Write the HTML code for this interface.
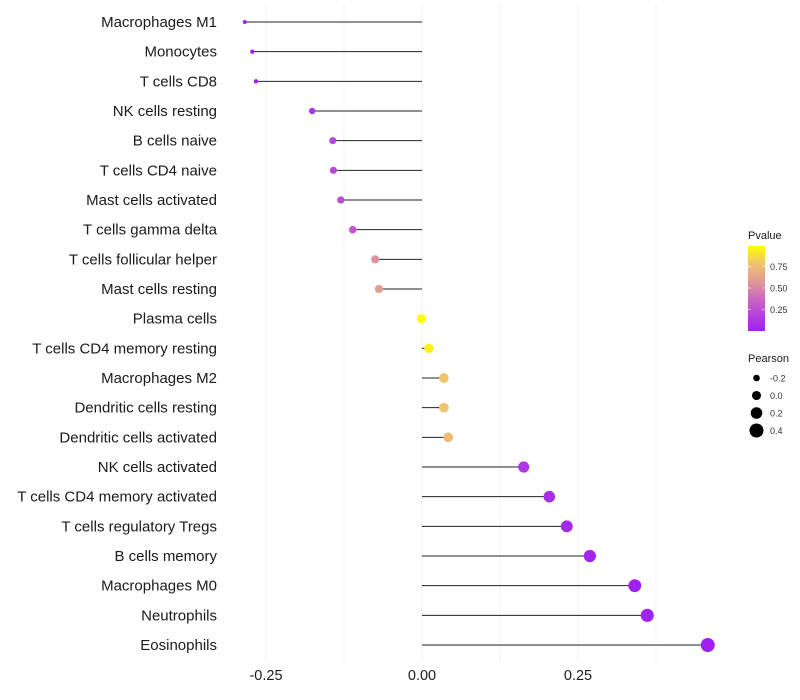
<!DOCTYPE html>
<html><head><meta charset="utf-8"><style>
body{margin:0;background:#fff;}
svg{display:block;font-family:"Liberation Sans",sans-serif;}
</style></head><body>
<svg id="chart" width="800" height="700"></svg>
<script>
const categories=["Macrophages M1","Monocytes","T cells CD8","NK cells resting","B cells naive","T cells CD4 naive","Mast cells activated","T cells gamma delta","T cells follicular helper","Mast cells resting","Plasma cells","T cells CD4 memory resting","Macrophages M2","Dendritic cells resting","Dendritic cells activated","NK cells activated","T cells CD4 memory activated","T cells regulatory  Tregs ","B cells memory","Macrophages M0","Neutrophils","Eosinophils"];
const pearson=[-0.284,-0.272,-0.266,-0.176,-0.143,-0.142,-0.130,-0.111,-0.075,-0.069,-0.001,0.011,0.035,0.035,0.042,0.163,0.204,0.232,0.269,0.341,0.361,0.458];
const pvalue=[0.0,0.01,0.01,0.12,0.2,0.2,0.25,0.3,0.55,0.6,1.0,0.95,0.8,0.8,0.75,0.12,0.07,0.05,0.03,0.01,0.005,0.0];
const xTicks=[-0.25,0,0.25];
const xTickLabels=["-0.25","0.00","0.25"];
const pTicks=[0.25,0.5,0.75];
const pTickLabels=["0.25","0.50","0.75"];
const sizeVals=[-0.2,0,0.2,0.4];
const sizeLabels=["-0.2","0.0","0.2","0.4"];

const NS="http://www.w3.org/2000/svg";
const svg=document.getElementById('chart');
function X(v){return 422+v*624;}
function Y(i){return 22+i*29.667;}
function R(v){return Math.sqrt(Math.max(3,21.2+60.6*v));}
const stops=[[0,[160,32,240]],[0.35,[200,96,200]],[0.6,[226,158,145]],[0.8,[240,195,110]],[1,[255,255,0]]];
function C(p){for(let k=1;k<stops.length;k++){if(p<=stops[k][0]){const a=stops[k-1],b=stops[k];const t=(p-a[0])/(b[0]-a[0]);return 'rgb('+a[1].map((c,j)=>Math.round(c+(b[1][j]-c)*t)).join(',')+')';}}return 'rgb(255,255,0)';}
function el(tag,attrs,parent){const e=document.createElementNS(NS,tag);for(const k in attrs)e.setAttribute(k,attrs[k]);(parent||svg).appendChild(e);return e;}

const grid=el('g',{});


for(let v=-0.25;v<=0.376;v+=0.125){el('line',{x1:X(v),x2:X(v),y1:5,y2:662,stroke:'#f0f0f0','stroke-width':1},grid);}

xTicks.forEach((v,i)=>{const t=el('text',{x:X(v),y:680,'text-anchor':'middle','font-size':14.5,fill:'#1a1a1a'});


t.textContent=xTickLabels[i];});

categories.forEach((c,i)=>{
 const t=el('text',{x:217,y:Y(i)+5,'text-anchor':'end','font-size':15,fill:'#1a1a1a'});
 
 
 t.textContent=c;
 const l=el('line',{x1:X(0),x2:X(pearson[i]),y1:Y(i),y2:Y(i),stroke:'#222','stroke-width':1});
 
 
 const p=el('circle',{cx:X(pearson[i]),cy:Y(i),r:R(pearson[i]),fill:C(pvalue[i])});
 
 
});

const lg=el('g',{});


const defs=el('defs',{});
const grad=el('linearGradient',{id:'pg',x1:0,y1:1,x2:0,y2:0},defs);
stops.forEach(s=>el('stop',{offset:s[0],'stop-color':'rgb('+s[1].join(',')+')'},grad));
const tt=el('text',{x:748,y:239,'font-size':11,fill:'#1a1a1a'},lg);tt.textContent='Pvalue';
el('rect',{x:748,y:246,width:17,height:85,fill:'url(#pg)'},lg);
function PY(p){return 331-p*86;}
pTicks.forEach((p,i)=>{el('line',{x1:748,x2:751,y1:PY(p),y2:PY(p),stroke:'#fff','stroke-opacity':0.6},lg);el('line',{x1:762,x2:765,y1:PY(p),y2:PY(p),stroke:'#fff','stroke-opacity':0.6},lg);
 const t=el('text',{x:770,y:PY(p)+3.5,'font-size':9,fill:'#333'},lg);t.textContent=pTickLabels[i];});

const sg=el('g',{});


const st=el('text',{x:748,y:362,'font-size':11,fill:'#1a1a1a'},sg);st.textContent='Pearson';
sizeVals.forEach((v,i)=>{const y=378+i*17.5;el('circle',{cx:756.5,cy:y,r:3.3+(v+0.2)*6.2,fill:'#000'},sg);
 const t=el('text',{x:770,y:y+3.5,'font-size':9,fill:'#333'},sg);t.textContent=sizeLabels[i];});
</script>
</body></html>
